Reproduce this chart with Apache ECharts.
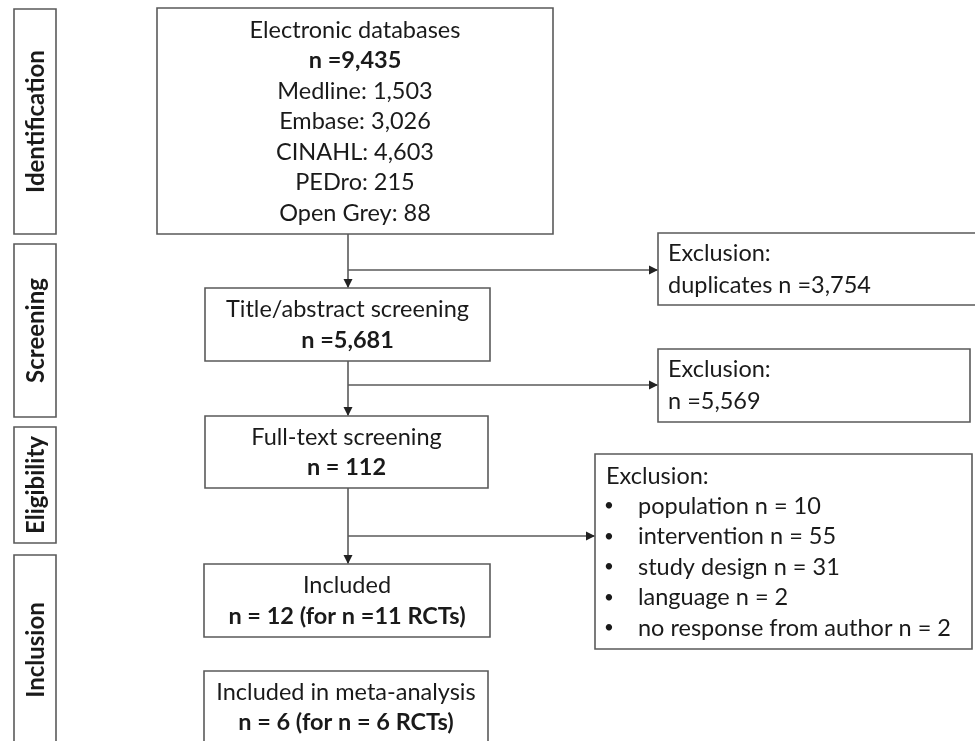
<!DOCTYPE html>
<html>
<head>
<meta charset="utf-8">
<script src="https://cdn.jsdelivr.net/npm/echarts@6.0.0/dist/echarts.min.js"></script>
<style>
html,body{margin:0;padding:0;background:#fff;}
#chart{width:975px;height:741px;}
</style>
</head>
<body>
<div id="chart"></div>
<script>
// ---- data ----
const stageLabels = ['Identification', 'Screening', 'Eligibility', 'Inclusion'];
const dbNames = ['Medline', 'Embase', 'CINAHL', 'PEDro', 'Open Grey'];
const dbCounts = ['1,503', '3,026', '4,603', '215', '88'];
const mainTitles = ['Electronic databases', 'Title/abstract screening', 'Full-text screening', 'Included', 'Included in meta-analysis'];
const mainCounts = ['n =9,435', 'n =5,681', 'n = 112', 'n = 12 (for n =11 RCTs)', 'n = 6 (for n = 6 RCTs)'];
const exclHeader = 'Exclusion:';
const exclSimple = ['duplicates n =3,754', 'n =5,569'];
const exclReasons = ['population', 'intervention', 'study design', 'language', 'no response from author'];
const exclCounts = [10, 55, 31, 2, 2];

// ---- layout (positions only) ----
const LINE = '#5a5a5a';
const TXT = '#1a1a1a';
const FONT = 'Lato, "Open Sans", sans-serif';
const FS = 23.5;
const LH = 30.5;

const stageBoxes = [[14, 9, 56, 234], [14, 244, 56, 417], [14, 427, 56, 543], [14, 555, 56, 746]];
const mainBoxes = [[157, 8, 553, 234], [205, 288, 490, 361], [205, 416, 488, 488], [204, 564, 490, 637], [204, 671, 488, 746]];
const exclBoxes = [[658, 233, 985, 305], [658, 349, 970, 422], [595, 454, 972, 649]];
const spineX = 348;

const g = [];
function box(b) {
  g.push({type: 'rect', shape: {x: b[0], y: b[1], width: b[2] - b[0], height: b[3] - b[1]},
    style: {fill: '#fff', stroke: LINE, lineWidth: 1.6}, z: 1});
}
function line(pts) {
  g.push({type: 'polyline', shape: {points: pts}, style: {stroke: LINE, lineWidth: 1.6, fill: null}, z: 2});
}
function arrowHead(x, y, dir) {
  const L = 9, W = 4.5;
  let pts;
  if (dir === 'down') pts = [[x, y], [x - W, y - L], [x + W, y - L]];
  else pts = [[x, y], [x - L, y - W], [x - L, y + W]];
  g.push({type: 'polygon', shape: {points: pts}, style: {fill: '#222', stroke: null}, z: 3});
}

// stage boxes
stageLabels.forEach((s, i) => {
  const b = stageBoxes[i];
  box(b);
  const cy = i === 3 ? 650 : (b[1] + b[3]) / 2;
  g.push({type: 'text', x: (b[0] + b[2]) / 2 + 1, y: cy, rotation: Math.PI / 2, z: 5,
    style: {text: s, fill: TXT, font: 'bold 24px ' + FONT, align: 'center', verticalAlign: 'middle'}});
});

// main boxes
mainBoxes.forEach((b, i) => {
  box(b);
  let txt = '{a|' + mainTitles[i] + '}\n{b|' + mainCounts[i] + '}';
  if (i === 0) {
    dbNames.forEach((d, k) => { txt += '\n{a|' + d + ': ' + dbCounts[k] + '}'; });
  }
  const cy = i === 4 ? 707.5 : (b[1] + b[3]) / 2 + 0.5;
  g.push({type: 'text', x: (b[0] + b[2]) / 2, y: cy, z: 5,
    style: {text: txt, align: 'center', verticalAlign: 'middle',
      rich: {a: {fontFamily: FONT, fontSize: FS, lineHeight: LH, fill: TXT, align: 'center'},
             b: {fontFamily: FONT, fontSize: FS, fontWeight: 'bold', lineHeight: LH, fill: TXT, align: 'center'}}}});
});

// exclusion boxes
exclBoxes.forEach((b, i) => box(b));
[0, 1].forEach(i => {
  const b = exclBoxes[i];
  g.push({type: 'text', x: b[0] + 10, y: (b[1] + b[3]) / 2, z: 5,
    style: {text: exclHeader + '\n' + exclSimple[i], fill: TXT, fontFamily: FONT, fontSize: FS,
      lineHeight: 32, align: 'left', verticalAlign: 'middle'}});
});
(function () {
  const b = exclBoxes[2];
  g.push({type: 'text', x: b[0] + 11, y: 476, z: 5,
    style: {text: exclHeader, fill: TXT, fontFamily: FONT, fontSize: FS, align: 'left', verticalAlign: 'middle'}});
  exclReasons.forEach((r, k) => {
    const y = 506 + k * 30.5;
    g.push({type: 'text', x: b[0] + 14, y: y, z: 5,
      style: {text: '•', fill: TXT, fontFamily: FONT, fontSize: 17, align: 'center', verticalAlign: 'middle'}});
    g.push({type: 'text', x: b[0] + 43, y: y, z: 5,
      style: {text: r + ' n = ' + exclCounts[k], fill: TXT, fontFamily: FONT, fontSize: FS, align: 'left', verticalAlign: 'middle'}});
  });
})();

// connectors
const branchY = [270, 385, 536];
for (let i = 0; i < 3; i++) {
  const top = mainBoxes[i][3], bot = mainBoxes[i + 1][1];
  line([[spineX, top], [spineX, bot - 1]]);
  arrowHead(spineX, bot, 'down');
  const ex = exclBoxes[i][0];
  line([[spineX, branchY[i]], [ex - 1, branchY[i]]]);
  arrowHead(ex, branchY[i], 'right');
}

const chart = echarts.init(document.getElementById('chart'), null, {renderer: 'canvas'});
chart.setOption({backgroundColor: '#fff', animation: false, graphic: {elements: g}});
</script>
</body>
</html>
